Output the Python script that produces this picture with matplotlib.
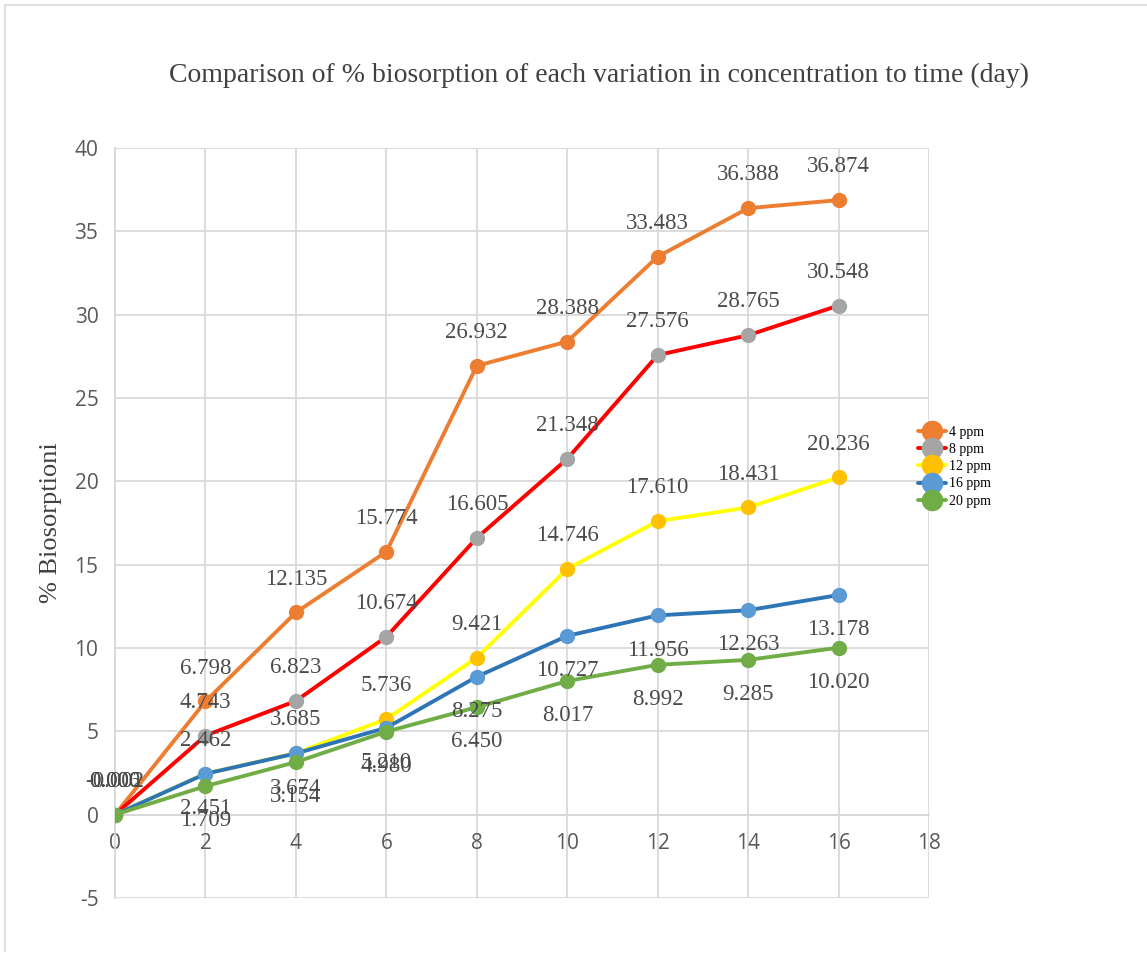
import matplotlib
matplotlib.use("Agg")
import matplotlib.pyplot as plt
from matplotlib.lines import Line2D

days = [0, 2, 4, 6, 8, 10, 12, 14, 16]
series_names = ["4 ppm", "8 ppm", "12 ppm", "16 ppm", "20 ppm"]
ppm4 = [0.0, 6.798, 12.135, 15.774, 26.932, 28.388, 33.483, 36.388, 36.874]
ppm8 = [0.0, 4.743, 6.823, 10.674, 16.605, 21.348, 27.576, 28.765, 30.548]
ppm12 = [0.0, 2.462, 3.685, 5.736, 9.421, 14.746, 17.610, 18.431, 20.236]
ppm16 = [0.0, 2.451, 3.674, 5.210, 8.275, 10.727, 11.956, 12.263, 13.178]
ppm20 = [0.0, 1.709, 3.154, 4.980, 6.450, 8.017, 8.992, 9.285, 10.020]
zero_labels = ["-0.002", "0.000", "0.006", "0.002", "0.000"]

line_colors = ["#ED7D31", "#FF0000", "#FFFF00", "#2E75B6", "#70AD47"]
marker_colors = ["#ED7D31", "#A5A5A5", "#FFC000", "#5B9BD5", "#70AD47"]
label_above = [True, True, True, False, False]

SERIF = "Liberation Serif"
SANS = "Open Sans"
plt.rcParams["axes.unicode_minus"] = False

fig = plt.figure(figsize=(11.47, 9.56), dpi=100)
ax = fig.add_axes([0.1003, 0.0607, 0.7097, 0.7845])

all_series = [ppm4, ppm8, ppm12, ppm16, ppm20]
for i, vals in enumerate(all_series):
    ax.plot(days, vals, color=line_colors[i], lw=2.8, marker="o", ms=10,
            mfc=marker_colors[i], mec=marker_colors[i], label=series_names[i],
            zorder=3 + i * 0.1, solid_capstyle="round")
    for j, (x, y) in enumerate(zip(days, vals)):
        txt = zero_labels[i] if j == 0 else "%.3f" % y
        if j == 0 and not label_above[i]:
            continue
        off = 24 if label_above[i] else -25
        ax.annotate(txt, (x, y), xytext=(0, off), textcoords="offset points",
                    ha="center", va="center",
                    fontsize=16.5, color="#4a4a4a", family=SERIF, zorder=6)

ax.set_xlim(0, 18)
ax.set_ylim(-5, 40)
ax.set_xticks(range(0, 19, 2))
ax.set_yticks(range(-5, 41, 5))
ax.grid(True, color="#D9D9D9", lw=1.3)
ax.set_axisbelow(True)
for s in ["top", "right"]:
    ax.spines[s].set_visible(False)
ax.spines["bottom"].set_position(("data", 0))
ax.spines["bottom"].set_color("#D9D9D9")
ax.spines["left"].set_color("#D9D9D9")
ax.spines["bottom"].set_linewidth(1.3)
ax.spines["left"].set_linewidth(1.3)
ax.tick_params(length=0, labelsize=15, labelcolor="#595959")
for lab in ax.get_xticklabels() + ax.get_yticklabels():
    lab.set_family(SANS)
ax.tick_params(axis="y", pad=12)
ax.tick_params(axis="x", pad=13)

ax.set_ylabel("% Biosorptioni", fontsize=19, family=SERIF, color="#404040", labelpad=9)
fig.text(0.522, 0.921, "Comparison of % biosorption of each variation in concentration to time (day)",
         ha="center", va="center", fontsize=20, family=SERIF, color="#404040")

leg = ax.legend(loc="center left", bbox_to_anchor=(0.975, 0.575), frameon=False,
                prop={"family": SERIF, "size": 10}, handlelength=2.0, markerscale=1.45,
                labelspacing=0.3, handletextpad=0.2, borderaxespad=0.3)

# outer frame (left and top edges)
fig.add_artist(Line2D([0.004, 0.004], [0.005, 0.995], color="#E0E0E0", lw=1.5))
fig.add_artist(Line2D([0.004, 1.0], [0.995, 0.995], color="#E0E0E0", lw=1.5))

fig.savefig("out.png", dpi=100)
